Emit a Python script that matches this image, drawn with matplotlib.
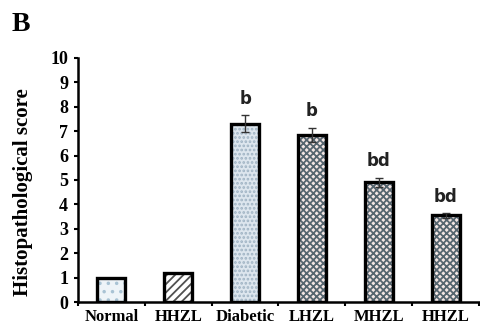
import numpy as np
import matplotlib.pyplot as plt

groups = ['Normal', 'HHZL', 'Diabetic', 'LHZL', 'MHZL', 'HHZL']
scores = [1.0, 1.2, 7.3, 6.85, 4.9, 3.55]
errors = [0.0, 0.0, 0.35, 0.3, 0.2, 0.1]
letters = ['', '', 'b', 'b', 'bd', 'bd']

fills = ['#eef4f8', 'white', '#dde6ee', '#f3e6e4', '#f3e6e4', '#f3e6e4']
hatches = ['..', '////', '....', 'xxxxx', 'xxxxx', 'xxxxx']
hatch_cols = ['#a9c3d4', '#505050', '#9fb3c3', '#55656f', '#55656f', '#55656f']

serif = 'Liberation Serif'
plt.rcParams['hatch.linewidth'] = 1.3

fig = plt.figure(figsize=(4.81, 3.33), dpi=100)
ax = fig.add_axes([0.162, 0.093, 0.834, 0.733])

x = np.arange(len(groups))
for i in range(len(groups)):
    # hatch colour follows edgecolor, so the outline is drawn as a second bar
    ax.bar(x[i], scores[i], width=0.42, color=fills[i], edgecolor=hatch_cols[i],
           linewidth=0, hatch=hatches[i], zorder=2)
    ax.bar(x[i], scores[i], width=0.42, color='none', edgecolor='black',
           linewidth=2.4, zorder=3)
    if errors[i] > 0:
        ax.errorbar(x[i], scores[i], yerr=errors[i], fmt='none', ecolor='#333333',
                    elinewidth=1, capsize=3, capthick=1, zorder=4)
    if letters[i]:
        ax.text(x[i], scores[i] + errors[i] + 0.3, letters[i], ha='center', va='bottom',
                fontsize=12, fontweight='bold', family='DejaVu Sans', color='#222222')

ax.set_xlim(-0.5, len(groups) - 0.5)
ax.set_ylim(0, 10)
ax.set_yticks(np.arange(0, 11, 1))
ax.set_xticks(x)
ax.set_xticklabels(groups, fontsize=12, fontweight='bold', family=serif)
ax.set_xticks(np.arange(-0.5, len(groups)), minor=True)
ax.tick_params(axis='x', which='major', length=0, pad=5)
ax.tick_params(axis='x', which='minor', length=3, width=1.5, direction='out')
ax.tick_params(axis='y', length=3, width=1.5, direction='out', pad=4)
for lab in ax.get_yticklabels():
    lab.set_fontsize(13)
    lab.set_fontweight('bold')
    lab.set_family(serif)

ax.spines['top'].set_visible(False)
ax.spines['right'].set_visible(False)
ax.spines['left'].set_linewidth(1.8)
ax.spines['bottom'].set_linewidth(1.8)

ax.set_ylabel('Histopathological score', fontsize=15, fontweight='bold', family=serif)
ax.yaxis.set_label_coords(-0.112, 0.45)
fig.text(0.025, 0.965, 'B', fontsize=20, fontweight='bold', family=serif, va='top')

fig.savefig('out.png', dpi=100)
